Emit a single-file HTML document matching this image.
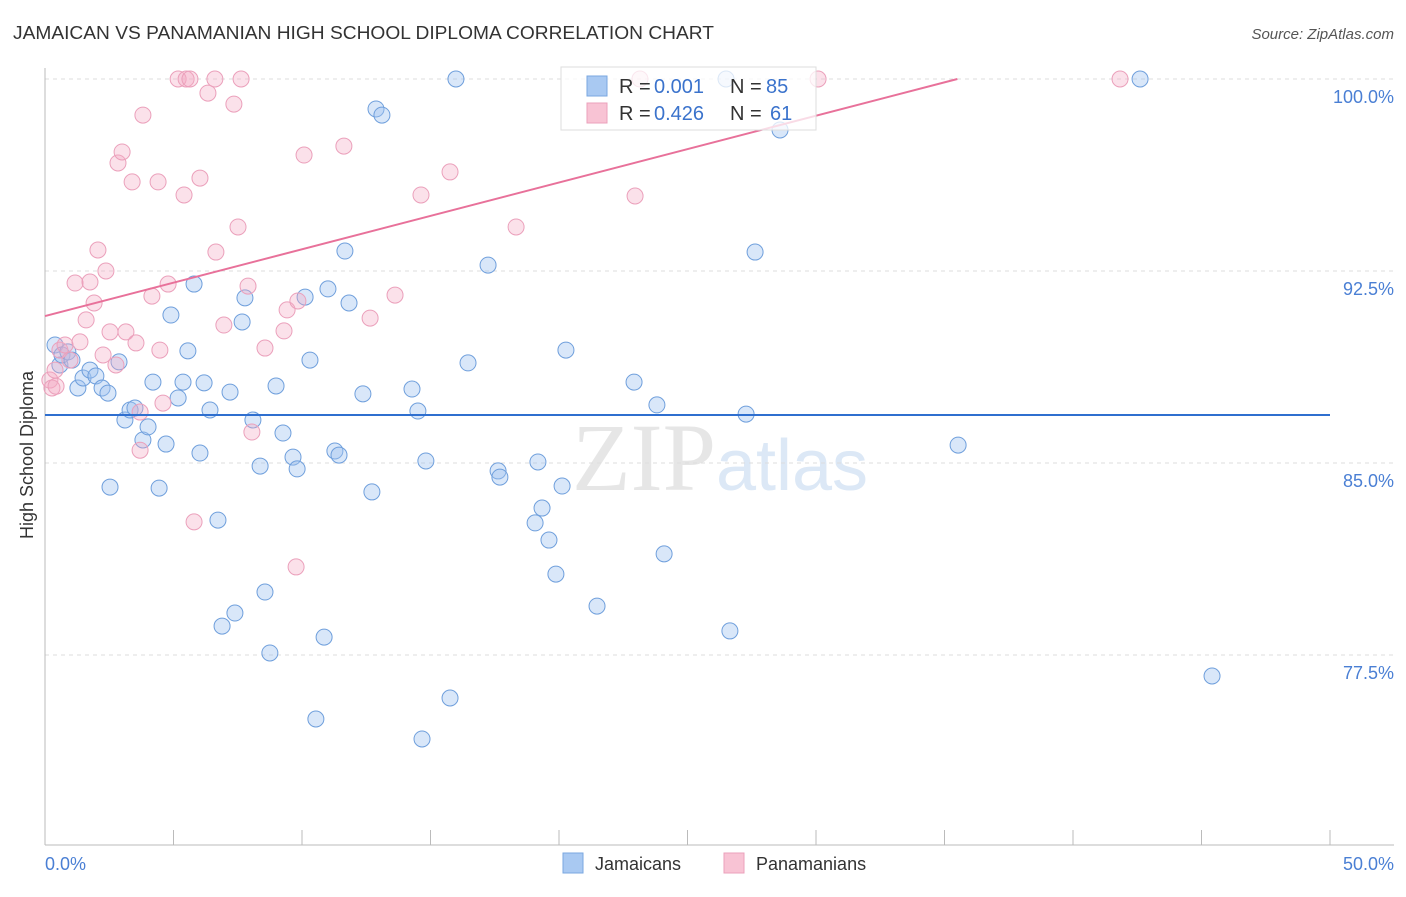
<!DOCTYPE html>
<html><head><meta charset="utf-8"><style>
body{margin:0;background:#fff;font-family:"Liberation Sans",sans-serif}
</style></head><body>
<svg width="1406" height="892" viewBox="0 0 1406 892" xmlns="http://www.w3.org/2000/svg" font-family="Liberation Sans, sans-serif">
<text x="13" y="39" font-size="18" fill="#333" textLength="701" lengthAdjust="spacingAndGlyphs">JAMAICAN VS PANAMANIAN HIGH SCHOOL DIPLOMA CORRELATION CHART</text>
<text x="1394" y="39" font-size="15" fill="#555" text-anchor="end" font-style="italic">Source: ZipAtlas.com</text>
<text x="720" y="490" font-size="96" fill="#e6e6e6" text-anchor="middle" font-family="Liberation Serif, serif">ZIP<tspan fill="#dce8f6" font-family="Liberation Sans, sans-serif" font-size="72">atlas</tspan></text>
<g id="grid"></g>
<g id="axes"></g>
<g id="pts"></g>
<g id="lines"></g>
<text transform="translate(33,455) rotate(-90)" font-size="18" fill="#333" text-anchor="middle">High School Diploma</text>
<text x="45" y="870" font-size="18" fill="#4a7fd4">0.0%</text>
<text x="1394" y="870" font-size="18" fill="#4a7fd4" text-anchor="end">50.0%</text>
<g>
<rect x="561" y="67" width="255" height="63" fill="#fff" fill-opacity="0.75" stroke="#ddd"/>
<rect x="587" y="76" width="20" height="20" fill="#a9c9f2" stroke="#7aa7e0"/>
<text x="619" y="93" font-size="20" fill="#333">R =</text>
<text x="654" y="93" font-size="20" fill="#3b73cc">0.001</text>
<text x="730" y="93" font-size="20" fill="#333">N =</text>
<text x="766" y="93" font-size="20" fill="#3b73cc">85</text>
<rect x="587" y="103" width="20" height="20" fill="#f8c3d4" stroke="#eba0bb"/>
<text x="619" y="120" font-size="20" fill="#333">R =</text>
<text x="654" y="120" font-size="20" fill="#3b73cc">0.426</text>
<text x="730" y="120" font-size="20" fill="#333">N =</text>
<text x="770" y="120" font-size="20" fill="#3b73cc">61</text>
</g>
<g>
<rect x="563" y="853" width="20" height="20" fill="#a9c9f2" stroke="#7aa7e0"/>
<text x="595" y="870" font-size="18" fill="#333">Jamaicans</text>
<rect x="724" y="853" width="20" height="20" fill="#f8c3d4" stroke="#eba0bb"/>
<text x="756" y="870" font-size="18" fill="#333">Panamanians</text>
</g>
</svg>
<script>
const yTicks=[100,92.5,85,77.5];
const yTickLabels=["100.0%","92.5%","85.0%","77.5%"];
const xTicks=[0,5,10,15,20,25,30,35,40,45,50];
const blueX=[0.39,0.58,0.66,0.89,1.05,1.28,1.48,1.75,1.98,2.22,2.45,2.88,2.53,3.11,3.31,3.50,3.81,4.01,4.20,4.44,4.71,4.90,5.18,5.37,5.56,5.80,6.03,6.19,6.42,6.73,6.89,7.39,7.20,7.67,7.78,8.09,8.37,8.56,8.75,8.99,9.26,9.65,9.81,10.12,10.31,10.54,10.86,11.01,11.28,11.44,11.67,11.83,12.37,12.72,12.88,13.11,14.28,14.51,14.67,14.82,15.76,15.99,16.46,17.24,17.63,17.70,19.07,19.18,19.34,19.61,19.88,20.12,20.27,21.48,22.92,23.81,24.09,26.50,26.65,27.28,27.63,28.60,35.53,42.61,45.41];
const blueY=[89.61,88.83,89.22,89.34,89.02,87.93,88.32,88.63,88.40,87.93,87.73,88.95,84.06,86.68,87.07,87.15,85.90,86.41,88.16,84.02,85.74,90.78,87.54,88.16,89.38,91.99,85.39,88.13,87.07,82.77,78.63,79.14,87.77,90.51,91.45,86.68,84.88,79.96,77.58,88.01,86.17,85.23,84.77,91.48,89.02,75.0,78.20,91.80,85.47,85.31,93.28,91.25,87.70,83.87,98.83,98.59,87.89,87.03,74.22,85.08,75.82,100,88.91,92.73,84.69,84.45,82.66,85.04,83.24,81.99,80.66,84.10,89.41,79.41,88.16,87.27,81.45,100,78.44,86.91,93.24,98.01,85.70,100,76.68];
const pinkX=[0.19,0.27,0.39,0.58,0.78,0.97,1.17,1.36,1.60,1.75,1.91,2.06,2.26,2.37,2.53,2.76,2.84,3.00,3.15,3.39,3.54,3.70,3.81,4.16,4.40,4.47,4.59,4.79,5.18,5.41,5.49,5.64,5.80,6.03,6.34,6.65,6.96,7.35,7.51,7.63,7.90,8.05,8.56,9.30,9.42,9.77,9.84,10.08,11.63,12.65,13.62,14.63,15.76,18.33,22.96,23.15,30.08,41.83,6.61,3.70,0.43];
const pinkY=[88.24,87.93,88.63,89.41,89.61,89.02,92.03,89.73,90.59,92.07,91.25,93.32,89.22,92.50,90.12,88.83,96.72,97.15,90.12,95.98,89.69,86.99,98.59,91.52,95.98,89.41,87.34,91.99,100,95.47,100,100,82.70,96.13,99.45,93.24,90.39,99.02,94.22,100,91.91,86.21,89.49,90.16,90.98,80.94,91.33,97.03,97.38,90.66,91.56,95.47,96.37,94.22,95.43,100,100,100,100,85.5,88.0];
const blueFit=[86.875,86.875];
const pinkFit=[90.74,100];
const pinkFitX=[0,35.5];
const NS="http://www.w3.org/2000/svg";
const X=v=>45+v*25.7, Y=v=>79+(100-v)*25.6;
function mk(t,a,p){const e=document.createElementNS(NS,t);for(const k in a)e.setAttribute(k,a[k]);p.appendChild(e);return e;}
const g=document.getElementById('grid'),ax=document.getElementById('axes'),pts=document.getElementById('pts'),ln=document.getElementById('lines');
yTicks.forEach((t,i)=>{
 const l=mk('line',{x1:45,x2:1394,y1:Y(t),y2:Y(t),stroke:'#ddd','stroke-dasharray':'4,4'},g);
 
 
 const tx=mk('text',{x:1394,y:Y(t)+24,'font-size':18,fill:'#4a7fd4','text-anchor':'end'},g);
 tx.textContent=yTickLabels[i];
 
 
});
const ya=mk('line',{x1:45,x2:45,y1:68,y2:845,stroke:'#bbb'},ax);


const xa=mk('line',{x1:45,x2:1394,y1:845,y2:845,stroke:'#bbb'},ax);


xTicks.forEach(t=>{
 const l=mk('line',{x1:X(t),x2:X(t),y1:830,y2:845,stroke:'#bbb'},ax);
 
 
});
blueX.forEach((v,i)=>{
 const c=mk('circle',{cx:X(v),cy:Y(blueY[i]),r:8,fill:'rgba(160,196,240,0.4)',stroke:'#6f9fdc','stroke-width':1},pts);
 
 
});
pinkX.forEach((v,i)=>{
 const c=mk('circle',{cx:X(v),cy:Y(pinkY[i]),r:8,fill:'rgba(244,170,195,0.35)',stroke:'#eba0bb','stroke-width':1},pts);
 
 
});
const bl=mk('line',{x1:X(0),x2:X(50),y1:Y(blueFit[0]),y2:Y(blueFit[1]),stroke:'#2f6fcf','stroke-width':2},ln);


const pl=mk('line',{x1:X(pinkFitX[0]),x2:X(pinkFitX[1]),y1:Y(pinkFit[0]),y2:Y(pinkFit[1]),stroke:'#e8719a','stroke-width':2},ln);


</script>
</body></html>
